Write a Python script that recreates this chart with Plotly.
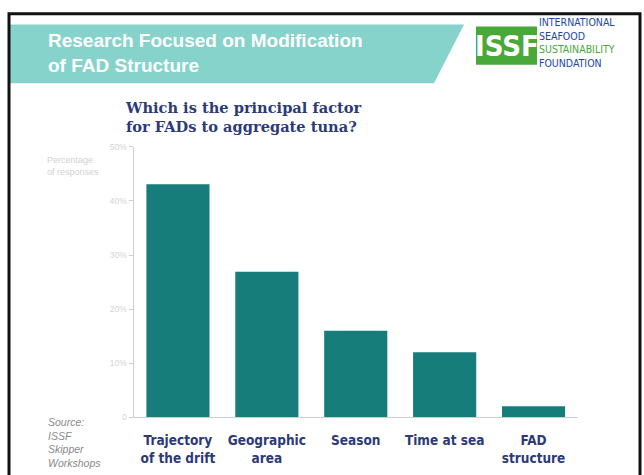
import plotly.graph_objects as go

# Survey responses: principal factor for FADs to aggregate tuna
categories = ["Trajectory<br>of the drift", "Geographic<br>area", "Season", "Time at sea", "FAD<br>structure"]
shares = [43.1, 26.9, 16.0, 12.0, 2.0]
tick_values = [0, 10, 20, 30, 40, 50]
tick_labels = ["0", "10%", "20%", "30%", "40%", "50%"]
logo_lines = ["INTERNATIONAL", "SEAFOOD", "SUSTAINABILITY", "FOUNDATION"]
logo_colors = ["#2046a8", "#2046a8", "#4aa83a", "#2046a8"]

W, H = 644, 475


def px(x):
    return x / W


def py(y):
    return 1 - y / H


NAVY = "#2c3a78"
TEAL_BAR = "#167d7b"
BAND = "#86d3cc"
COND = "DejaVu Sans Condensed, DejaVu Sans"

fig = go.Figure(
    go.Bar(
        x=categories,
        y=shares,
        marker=dict(color=TEAL_BAR, line=dict(width=0)),
        hoverinfo="skip",
    )
)

shapes = [
    # header band with slanted right edge
    dict(type="path", xref="paper", yref="paper",
         path=f"M {px(9)},{py(20)} L {px(464)},{py(20)} L {px(434)},{py(80)} L {px(9)},{py(80)} Z",
         fillcolor=BAND, line=dict(width=0), layer="below"),
    # logo block
    dict(type="rect", xref="paper", yref="paper",
         x0=px(476), x1=px(537), y0=py(22), y1=py(61),
         fillcolor="#48a83a", line=dict(width=0)),
    # page frame
    dict(type="rect", xref="paper", yref="paper",
         x0=px(9), x1=px(640), y0=py(490), y1=py(9),
         line=dict(color="#111111", width=3), fillcolor="rgba(0,0,0,0)"),
]

# organisation name beside the logo block, coloured line by line
logo_text = "<br>".join(
    f"<span style='color:{c}'>{t}</span>" for t, c in zip(logo_lines, logo_colors)
)

annotations = [
    dict(text="Research Focused on Modification<br>of FAD Structure",
         x=px(46), y=py(24), xanchor="left", yanchor="top", align="left",
         font=dict(family="Liberation Sans, Arial", size=19, color="white", weight="bold"),
         showarrow=False, xref="paper", yref="paper"),
    dict(text="ISSF",
         x=px(506.5), y=py(42), xanchor="center", yanchor="middle",
         font=dict(family=COND, size=29, color="white", weight="bold"),
         showarrow=False, xref="paper", yref="paper"),
    dict(text=logo_text,
         x=px(538), y=py(38), xanchor="left", yanchor="middle", align="left",
         font=dict(family=COND, size=10.5, color="#2046a8"),
         showarrow=False, xref="paper", yref="paper", borderpad=0),
    dict(text="Which is the principal factor<br>for FADs to aggregate tuna?",
         x=px(123), y=py(94), xanchor="left", yanchor="top", align="left",
         font=dict(family="DejaVu Serif", size=14.6, color=NAVY, weight="bold"),
         showarrow=False, xref="paper", yref="paper"),
    dict(text="Percentage<br>of responses",
         x=px(45), y=py(151), xanchor="left", yanchor="top", align="left",
         font=dict(family="Liberation Sans", size=9, color="#d2d2d2"),
         showarrow=False, xref="paper", yref="paper"),
    dict(text="<i>Source:<br>ISSF<br>Skipper<br>Workshops</i>",
         x=px(46), y=py(418), xanchor="left", yanchor="top", align="left",
         font=dict(family="Liberation Sans", size=10.5, color="#8a8a8a"),
         showarrow=False, xref="paper", yref="paper"),
]

fig.update_layout(
    width=W, height=H,
    margin=dict(l=0, r=0, t=0, b=0),
    paper_bgcolor="white", plot_bgcolor="white",
    showlegend=False,
    bargap=0.29,
    shapes=shapes,
    annotations=annotations,
    xaxis=dict(
        domain=[px(133.5), px(578)],
        showline=True, linecolor="#cfcfcf", linewidth=1,
        showgrid=False, zeroline=False,
        tickfont=dict(family=COND, size=13.5, color=NAVY, weight="bold"),
        ticks="", ticklabelstandoff=11, fixedrange=True,
    ),
    yaxis=dict(
        domain=[1 - 421 / H, 1 - 145 / H],
        range=[0, 50],
        tickvals=tick_values, ticktext=tick_labels,
        showline=True, linecolor="#cfcfcf", linewidth=1,
        ticks="outside", ticklen=4, tickcolor="#cfcfcf",
        tickfont=dict(family="Liberation Sans", size=8.5, color="#d4d4d4"),
        showgrid=False, zeroline=False, fixedrange=True,
    ),
)

fig.write_html("out.html")
